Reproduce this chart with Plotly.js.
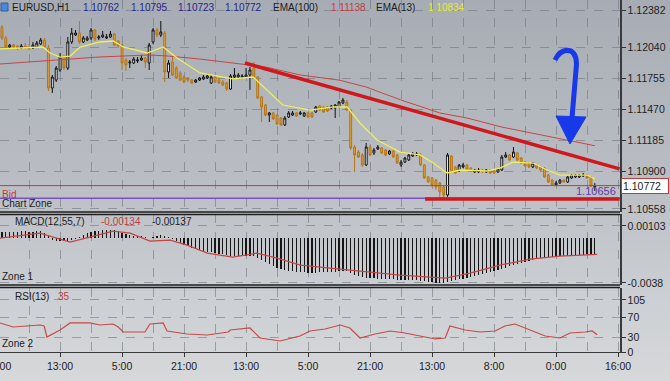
<!DOCTYPE html>
<html>
<head>
<meta charset="utf-8">
<script src="https://cdn.plot.ly/plotly-3.0.1.min.js"></script>
<style>
html,body{margin:0;padding:0;}
#chart{width:670px;height:381px;background:linear-gradient(to bottom,#a7acb4 0%,#b9bdc3 45%,#cdd0d4 80%,#d6d8da 100%);}
</style>
</head>
<body>
<div id="chart"></div>
<script>
// ---------------- DATA ----------------
const tickBars = [16, 32, 48, 64, 80, 96, 112, 128, 144, 160];
const tickLabels = ['13:00', '5:00', '21:00', '13:00', '5:00', '21:00', '13:00', '8:00', '0:00', '16:00'];
const gridBars = [8, 24, 40, 56, 72, 88, 104, 120, 136, 152];

const open = [
1.12226,1.12126,1.12043,1.12061,1.12052,1.12034,1.12052,1.12043,1.12034,1.12043,
1.12071,1.12107,1.12034,1.11667,1.11740,1.11832,1.11951,1.11850,1.12089,1.12153,
1.12171,1.12089,1.12107,1.12126,1.12199,1.12126,1.12135,1.12126,1.12135,1.12162,
1.12098,1.12061,1.11924,1.11896,1.11896,1.11915,1.11924,1.11942,1.11896,1.12089,
1.12199,1.12153,1.12171,1.11814,1.11905,1.11850,1.11805,1.11768,1.11759,1.11740,
1.11722,1.11740,1.11750,1.11759,1.11713,1.11768,1.11740,1.11722,1.11713,1.11658,
1.11768,1.11768,1.11768,1.11768,1.11786,1.11850,1.11768,1.11585,1.11511,1.11419,
1.11438,1.11419,1.11392,1.11328,1.11401,1.11419,1.11438,1.11429,1.11410,1.11438,
1.11438,1.11447,1.11502,1.11493,1.11493,1.11484,1.11484,1.11493,1.11529,1.11539,
1.11465,1.11126,1.11080,1.11053,1.10961,1.11126,1.11071,1.11108,1.11117,1.11098,
1.11062,1.11089,1.11053,1.10961,1.10988,1.11007,1.11043,1.11053,1.11053,1.10961,
1.10851,1.10842,1.10823,1.10796,1.10759,1.10686,1.11043,1.10943,1.10915,1.10943,
1.10961,1.10933,1.10897,1.10897,1.10915,1.10897,1.10915,1.10906,1.10897,1.10915,
1.11034,1.11053,1.11034,1.11071,1.11025,1.10988,1.10979,1.10943,1.10961,1.10943,
1.10933,1.10869,1.10823,1.10778,1.10796,1.10823,1.10805,1.10842,1.10851,1.10851,
1.10860,1.10869,1.10851,1.10762];

const high = [
1.12245,1.12144,1.12071,1.12071,1.12061,1.12071,1.12080,1.12071,1.12089,1.12098,
1.12126,1.12126,1.12061,1.11786,1.11869,1.11988,1.11970,1.12135,1.12217,1.12199,
1.12281,1.12144,1.12144,1.12217,1.12208,1.12153,1.12190,1.12162,1.12190,1.12171,
1.12107,1.12071,1.11942,1.11924,1.11951,1.11951,1.11970,1.11951,1.12080,1.12217,
1.12217,1.12281,1.12190,1.11924,1.11951,1.11869,1.11823,1.11786,1.11768,1.11750,
1.11750,1.11768,1.11786,1.11795,1.11786,1.11777,1.11759,1.11740,1.11722,1.11795,
1.11850,1.11805,1.11795,1.11850,1.11860,1.11905,1.11777,1.11594,1.11520,1.11447,
1.11447,1.11429,1.11401,1.11410,1.11456,1.11456,1.11447,1.11456,1.11447,1.11447,
1.11447,1.11502,1.11511,1.11502,1.11502,1.11511,1.11520,1.11548,1.11575,1.11557,
1.11474,1.11144,1.11098,1.11071,1.11163,1.11144,1.11117,1.11144,1.11126,1.11108,
1.11098,1.11098,1.11062,1.11007,1.11034,1.11071,1.11080,1.11080,1.11071,1.10970,
1.10860,1.10851,1.10833,1.10805,1.10768,1.11071,1.11053,1.10952,1.10970,1.10979,
1.10970,1.10943,1.10924,1.10933,1.10924,1.10924,1.10924,1.10915,1.10933,1.11053,
1.11080,1.11062,1.11126,1.11080,1.11034,1.10998,1.10988,1.10988,1.10970,1.10952,
1.10943,1.10878,1.10833,1.10814,1.10833,1.10833,1.10860,1.10878,1.10878,1.10878,
1.10888,1.10878,1.10860,1.10795];

const low = [
1.12107,1.12034,1.12034,1.12025,1.12015,1.12025,1.12025,1.12015,1.12025,1.12034,
1.12061,1.12034,1.11640,1.11621,1.11722,1.11814,1.11832,1.11832,1.12071,1.12144,
1.12071,1.12080,1.12098,1.12107,1.12098,1.12107,1.12126,1.12116,1.12126,1.12052,
1.12034,1.11832,1.11823,1.11850,1.11887,1.11896,1.11915,1.11850,1.11832,1.12071,
1.12135,1.12135,1.11722,1.11759,1.11777,1.11750,1.11731,1.11713,1.11722,1.11704,
1.11713,1.11731,1.11740,1.11750,1.11704,1.11713,1.11704,1.11685,1.11640,1.11649,
1.11750,1.11759,1.11759,1.11759,1.11649,1.11759,1.11566,1.11355,1.11410,1.11355,
1.11374,1.11328,1.11319,1.11319,1.11392,1.11410,1.11401,1.11419,1.11401,1.11392,
1.11392,1.11438,1.11456,1.11438,1.11447,1.11474,1.11392,1.11484,1.11520,1.11456,
1.11098,1.10897,1.11025,1.10943,1.10952,1.11043,1.11053,1.11098,1.11062,1.11043,
1.11053,1.11025,1.10970,1.10943,1.10979,1.10998,1.11034,1.11043,1.10952,1.10833,
1.10796,1.10759,1.10732,1.10668,1.10656,1.10668,1.10888,1.10878,1.10897,1.10933,
1.10906,1.10897,1.10888,1.10888,1.10888,1.10888,1.10878,1.10878,1.10888,1.10906,
1.11025,1.10998,1.11025,1.10998,1.10970,1.10943,1.10933,1.10933,1.10924,1.10906,
1.10842,1.10796,1.10768,1.10768,1.10787,1.10796,1.10796,1.10833,1.10842,1.10842,
1.10851,1.10833,1.10759,1.10723];

const close = [
1.12126,1.12043,1.12061,1.12043,1.12034,1.12052,1.12034,1.12025,1.12061,1.12080,
1.12107,1.12043,1.11667,1.11768,1.11850,1.11951,1.11850,1.12089,1.12171,1.12171,
1.12089,1.12126,1.12126,1.12199,1.12116,1.12135,1.12153,1.12135,1.12162,1.12061,
1.12052,1.11896,1.11878,1.11905,1.11933,1.11924,1.11942,1.11905,1.12061,1.12199,
1.12153,1.12181,1.11814,1.11896,1.11786,1.11759,1.11740,1.11722,1.11740,1.11713,
1.11740,1.11759,1.11768,1.11777,1.11768,1.11722,1.11713,1.11695,1.11658,1.11777,
1.11786,1.11786,1.11777,1.11786,1.11832,1.11768,1.11575,1.11493,1.11419,1.11438,
1.11383,1.11337,1.11328,1.11392,1.11438,1.11438,1.11410,1.11438,1.11438,1.11401,
1.11401,1.11493,1.11465,1.11447,1.11456,1.11502,1.11511,1.11539,1.11557,1.11465,
1.11117,1.11053,1.11034,1.10961,1.11126,1.11053,1.11098,1.11126,1.11071,1.11053,
1.11089,1.11034,1.10979,1.10988,1.11025,1.11053,1.11062,1.11062,1.10961,1.10842,
1.10805,1.10778,1.10759,1.10713,1.10686,1.11053,1.10897,1.10888,1.10961,1.10961,
1.10915,1.10906,1.10915,1.10915,1.10897,1.10915,1.10888,1.10888,1.10924,1.11034,
1.11053,1.11007,1.11080,1.11007,1.10979,1.10952,1.10943,1.10979,1.10933,1.10915,
1.10851,1.10805,1.10778,1.10796,1.10823,1.10805,1.10851,1.10869,1.10869,1.10869,
1.10869,1.10842,1.10768,1.10772];

const ema100Bars = [0.5, 12, 26, 39, 44, 52, 61, 69, 78, 88, 95, 104, 114, 121, 130, 138, 147, 154];
const ema100Vals = [1.11887, 1.11915, 1.11951, 1.11970, 1.11960, 1.11933, 1.11896, 1.11860, 1.11786, 1.11740, 1.11676, 1.11557, 1.11438, 1.11392, 1.11309, 1.11254, 1.11190, 1.11138];

const ema13Bars = [0.5, 5.7, 11.6, 13.4, 16, 18.6, 21.2, 26.3, 29.7, 32.3, 38.5, 42.6, 46.2, 52.1, 60.6, 65.8, 69.4, 73.5, 80.5, 86.5, 90.1, 93.4, 97.8, 103.7, 108.9, 112.3, 115.9, 119.2, 126.2, 129.5, 132.9, 138.1, 141.7, 145, 152, 154];
const ema13Vals = [1.12025, 1.12034, 1.12043, 1.11988, 1.11951, 1.11960, 1.12043, 1.12089, 1.12098, 1.12043, 1.11988, 1.12043, 1.11942, 1.11805, 1.11750, 1.11768, 1.11649, 1.11511, 1.11465, 1.11493, 1.11493, 1.11346, 1.11190, 1.11080, 1.11053, 1.10979, 1.10888, 1.10915, 1.10906, 1.10933, 1.10988, 1.10979, 1.10915, 1.10869, 1.10869, 1.10834];

const macdHist = [
0.00050, 0.00052, 0.00054, 0.00055, 0.00056, 0.00057, 0.00057, 0.00056, 0.00056, 0.00058, 0.00060,
0.00045, 0.00020,
-0.00015, -0.00022, -0.00025, -0.00028, -0.00025, -0.00015,
-0.00005, 0.00008, 0.00025,
0.00040, 0.00050, 0.00058, 0.00064, 0.00068, 0.00070, 0.00072, 0.00070, 0.00062, 0.00045, 0.00035,
0.00028, 0.00022, 0.00018, 0.00015, 0.00008,
0.00005, 0.00012, 0.00020,
0.00024, 0.00022, 0.00010,
-0.00010, -0.00025, -0.00040, -0.00055,
-0.00068, -0.00080, -0.00090, -0.00100, -0.00108, -0.00115, -0.00120, -0.00126, -0.00132, -0.00138, -0.00145, -0.00148,
-0.00148, -0.00150, -0.00150, -0.00150, -0.00148, -0.00150,
-0.00165, -0.00185, -0.00205, -0.00222, -0.00238, -0.00252, -0.00265, -0.00272, -0.00278, -0.00282, -0.00285, -0.00288, -0.00290, -0.00292,
-0.00293, -0.00292, -0.00290, -0.00288, -0.00287, -0.00285, -0.00283, -0.00280, -0.00279, -0.00280,
-0.00295, -0.00310, -0.00322, -0.00332, -0.00336, -0.00338, -0.00340, -0.00342, -0.00343, -0.00345,
-0.00347, -0.00350, -0.00352, -0.00352, -0.00353, -0.00355, -0.00356, -0.00358, -0.00362, -0.00366, -0.00370, -0.00373, -0.00376, -0.00378, -0.00380,
-0.00372, -0.00365, -0.00358, -0.00350, -0.00342, -0.00335, -0.00327, -0.00320, -0.00312, -0.00304, -0.00296, -0.00288, -0.00280, -0.00272, -0.00262,
-0.00250, -0.00240, -0.00228, -0.00218, -0.00208, -0.00198, -0.00190, -0.00182, -0.00176, -0.00170,
-0.00166, -0.00162, -0.00160, -0.00158, -0.00155, -0.00152, -0.00150, -0.00148, -0.00145, -0.00142, -0.00140, -0.00138, -0.00136, -0.00134];

const signalBars = [0.5, 10.8, 18.6, 23.7, 29.7, 34.1, 39.2, 44.4, 48.8, 54, 60.6, 66.8, 72, 78, 90.8, 103.7, 115.4, 121.8, 129.5, 137.3, 145, 154.6];
const signalVals = [0.0, 0.00042, -0.00034, 0.00008, 0.00059, 0.00042, -0.00025, -0.00017, -0.00059, -0.00127, -0.00161, -0.00127, -0.00169, -0.00229, -0.00271, -0.00313, -0.00339, -0.00296, -0.00229, -0.00178, -0.00152, -0.00137];

const rsiBars = [0.5, 3.9, 10.8, 11.9, 12.6, 16, 18.6, 23.7, 26.3, 29.7, 31, 32.3, 37.9, 39.2, 42.6, 43.6, 48.8, 54, 59.4, 59.9, 65, 67.6, 72.8, 77.9, 80.5, 84.4, 88.3, 90.8, 93.4, 97.3, 101.2, 105, 108.9, 112.8, 115.4, 116.6, 120.5, 124.4, 128.3, 130.8, 133.4, 137.3, 141.2, 145, 147.6, 151.5, 153.3, 154.6];
const rsiVals = [58.6, 50.5, 54.5, 52.5, 30.3, 44.4, 58.6, 58.6, 54.5, 56.5, 50.5, 40.4, 40.4, 56.5, 58.6, 42.4, 36.3, 34.3, 40.4, 44.4, 48.5, 28.3, 22.2, 32.3, 42.4, 46.4, 54.5, 48.5, 28.3, 36.3, 42.4, 38.4, 32.3, 26.3, 28.3, 52.5, 44.4, 40.4, 42.4, 52.5, 56.5, 44.4, 32.3, 28.3, 38.4, 40.4, 42.4, 35];

const priceTicks = [1.12382, 1.12040, 1.11755, 1.11470, 1.11185, 1.10900, 1.10558];
const macdTicks = [0.00103, -0.0038];
const rsiTicks = [0, 30, 70, 105];

const bidPrice = 1.10772;
const lowLevel = 1.10656;
const trendStart = [63.7, 1.11896];
const trendEnd = [160.4, 1.10925];
const supportStart = 110.2;
const supportLevel = 1.10650;

// ---------------- HELPERS (layout only) ----------------
const W = 620, H = 352;
const px = x => x / W;
const py = y => (H - y) / H;
const FONT = 'Liberation Sans, Arial, sans-serif';
const bars = open.map((_, i) => i + 1);

function ann(text, x, y, color, size, xanchor) {
  return {xref: 'paper', yref: 'paper', x: px(x), y: py(y), text: text, showarrow: false,
    xanchor: xanchor || 'left', yanchor: 'middle', font: {family: FONT, size: size || 10, color: color}};
}

const gridCol = 'rgba(105,112,122,0.55)';

const traces = [
  {type: 'candlestick', x: bars, open: open, high: high, low: low, close: close,
   xaxis: 'x', yaxis: 'y', whiskerwidth: 0,
   increasing: {line: {color: '#111111', width: 1}, fillcolor: '#ffffff'},
   decreasing: {line: {color: '#b57619', width: 1}, fillcolor: '#dd9d36'},
   hoverinfo: 'skip', showlegend: false},
  {type: 'scatter', mode: 'lines', x: ema100Bars, y: ema100Vals, xaxis: 'x', yaxis: 'y',
   line: {color: '#c24848', width: 1}, hoverinfo: 'skip', showlegend: false},
  {type: 'scatter', mode: 'lines', x: ema13Bars, y: ema13Vals, xaxis: 'x', yaxis: 'y',
   line: {color: '#f0ef55', width: 1.3}, hoverinfo: 'skip', showlegend: false},
  {type: 'bar', x: bars, y: macdHist, xaxis: 'x', yaxis: 'y2', width: 0.3,
   marker: {color: '#151515', line: {width: 0}}, hoverinfo: 'skip', showlegend: false},
  {type: 'scatter', mode: 'lines', x: signalBars, y: signalVals, xaxis: 'x', yaxis: 'y2',
   line: {color: '#c84444', width: 1.2}, hoverinfo: 'skip', showlegend: false},
  {type: 'scatter', mode: 'lines', x: rsiBars, y: rsiVals, xaxis: 'x', yaxis: 'y3',
   line: {color: '#c64a4a', width: 1.2}, hoverinfo: 'skip', showlegend: false}
];

const yCommon = {side: 'right', anchor: 'x', showgrid: true, gridcolor: gridCol, griddash: 'dash', gridwidth: 1,
  zeroline: false, ticks: 'outside', ticklen: 4, tickcolor: '#333', showline: true, linecolor: '#3a3a3a',
  linewidth: 1.5, tickmode: 'array', tickfont: {family: FONT, size: 10.5, color: '#1e1e1e'}, fixedrange: true};

const layout = {
  width: 670, height: 381,
  margin: {l: 0, r: 50, t: 0, b: 29},
  paper_bgcolor: 'rgba(0,0,0,0)', plot_bgcolor: 'rgba(0,0,0,0)',
  showlegend: false, bargap: 0,
  xaxis: {range: [0.5, 160.5], anchor: 'y3', domain: [0, 1], tickmode: 'array',
    tickvals: tickBars, ticktext: tickLabels, ticks: 'outside', ticklen: 4, tickcolor: '#333',
    showgrid: true, gridcolor: gridCol, griddash: 'dash', zeroline: false,
    showline: true, linecolor: '#3a3a3a', linewidth: 1,
    minor: {tickmode: 'array', tickvals: gridBars, showgrid: true, gridcolor: gridCol, griddash: 'dash', ticks: ''},
    rangeslider: {visible: false},
    tickfont: {family: FONT, size: 10.5, color: '#1e1e1e'}, fixedrange: true},
  yaxis: Object.assign({}, yCommon, {domain: [140 / 352, 1], range: [1.10530, 1.12474],
    tickvals: priceTicks, ticktext: priceTicks.map(v => v.toFixed(5))}),
  yaxis2: Object.assign({}, yCommon, {domain: [67 / 352, 138 / 352], range: [-0.00397, 0.002046],
    tickvals: macdTicks, ticktext: ['0.00103', '-0.0038']}),
  yaxis3: Object.assign({}, yCommon, {domain: [0, 64 / 352], range: [0, 129.2],
    tickvals: rsiTicks, ticktext: rsiTicks.map(String)}),
  shapes: [
    // panel separators
    {type: 'line', xref: 'paper', yref: 'paper', x0: 0, x1: 1, y0: py(212), y1: py(212), line: {color: '#1e1e1e', width: 1.3}},
    {type: 'line', xref: 'paper', yref: 'paper', x0: 0, x1: 1, y0: py(214.5), y1: py(214.5), line: {color: '#1e1e1e', width: 1.3}},
    {type: 'line', xref: 'paper', yref: 'paper', x0: 0, x1: 1, y0: py(285), y1: py(285), line: {color: '#1e1e1e', width: 1.3}},
    {type: 'line', xref: 'paper', yref: 'paper', x0: 0, x1: 1, y0: py(287.5), y1: py(287.5), line: {color: '#1e1e1e', width: 1.3}},
    // bid line & low level
    {type: 'line', xref: 'paper', yref: 'y', x0: 0, x1: 1, y0: bidPrice, y1: bidPrice, line: {color: '#c23a3a', width: 1}},
    {type: 'line', xref: 'paper', yref: 'y', x0: 0, x1: 1, y0: lowLevel, y1: lowLevel, line: {color: '#7a52c8', width: 1.3}},
    // trend lines
    {type: 'line', xref: 'x', yref: 'y', x0: trendStart[0], y0: trendStart[1], x1: trendEnd[0], y1: trendEnd[1], line: {color: '#d0181c', width: 3.5}},
    {type: 'line', xref: 'x', yref: 'y', x0: supportStart, y0: supportLevel, x1: 160.4, y1: supportLevel, line: {color: '#d0181c', width: 3.5}},
    // blue hook arrow
    {type: 'path', xref: 'paper', yref: 'paper', layer: 'above',
     path: `M ${px(555)} ${py(60)} Q ${px(561)} ${py(48)} ${px(571)} ${py(51)} Q ${px(578)} ${py(55)} ${px(576)} ${py(70)} L ${px(572)} ${py(118)}`,
     line: {color: '#1739ea', width: 5}},
    {type: 'path', xref: 'paper', yref: 'paper', layer: 'above',
     path: `M ${px(556)} ${py(116)} L ${px(586)} ${py(117)} L ${px(570)} ${py(144)} Z`,
     fillcolor: '#1739ea', line: {color: '#1739ea', width: 1}},
    // header icon
    {type: 'rect', xref: 'paper', yref: 'paper', x0: px(1), x1: px(8), y0: py(11), y1: py(3),
     fillcolor: '#4f86d6', line: {color: '#2f5fa8', width: 1}}
  ],
  annotations: [
    ann('EURUSD,H1', 10, 7.5, '#1c1c1c', 10),
    ann('1.10762', 81, 7.5, '#26268c', 10),
    ann('1.10795', 129, 7.5, '#26268c', 10),
    ann('1.10723', 176, 7.5, '#26268c', 10),
    ann('1.10772', 223, 7.5, '#26268c', 10),
    ann('EMA(100)', 271, 7.5, '#1c1c1c', 10),
    ann('1.11138', 329, 7.5, '#c43c3c', 10),
    ann('EMA(13)', 374, 7.5, '#1c1c1c', 10),
    ann('1.10834', 426, 7.5, '#e8e838', 10),
    ann('Bid', 0, 194, '#c23a3a', 10),
    ann('Chart Zone', 0, 203, '#1c1c1c', 10),
    ann('1.10656', 618, 191, '#5e3da6', 11, 'right'),
    ann('MACD(12,55,7)', 13, 221, '#1c1c1c', 10),
    ann('-0.00134', 99, 221, '#c43c3c', 10),
    ann('-0.00137', 150, 221, '#1c1c1c', 10),
    ann('Zone 1', 0, 276, '#1c1c1c', 10),
    ann('RSI(13)', 13, 296, '#1c1c1c', 10),
    ann('35', 56, 296, '#c43c3c', 10),
    ann('Zone 2', 0, 343, '#1c1c1c', 10),
    ann('21:00', -2, 366, '#1e1e1e', 10.5, 'center'),
    {xref: 'paper', yref: 'y', x: 1, y: bidPrice, xanchor: 'left', yanchor: 'middle', xshift: 1,
     text: '1.10772', showarrow: false, bgcolor: '#ffffff', bordercolor: '#c23a3a', borderwidth: 1,
     borderpad: 1, width: 44, align: 'left', font: {family: FONT, size: 10.5, color: '#1e1e1e'}}
  ]
};

Plotly.newPlot('chart', traces, layout, {displayModeBar: false, staticPlot: true});
</script>
</body>
</html>
